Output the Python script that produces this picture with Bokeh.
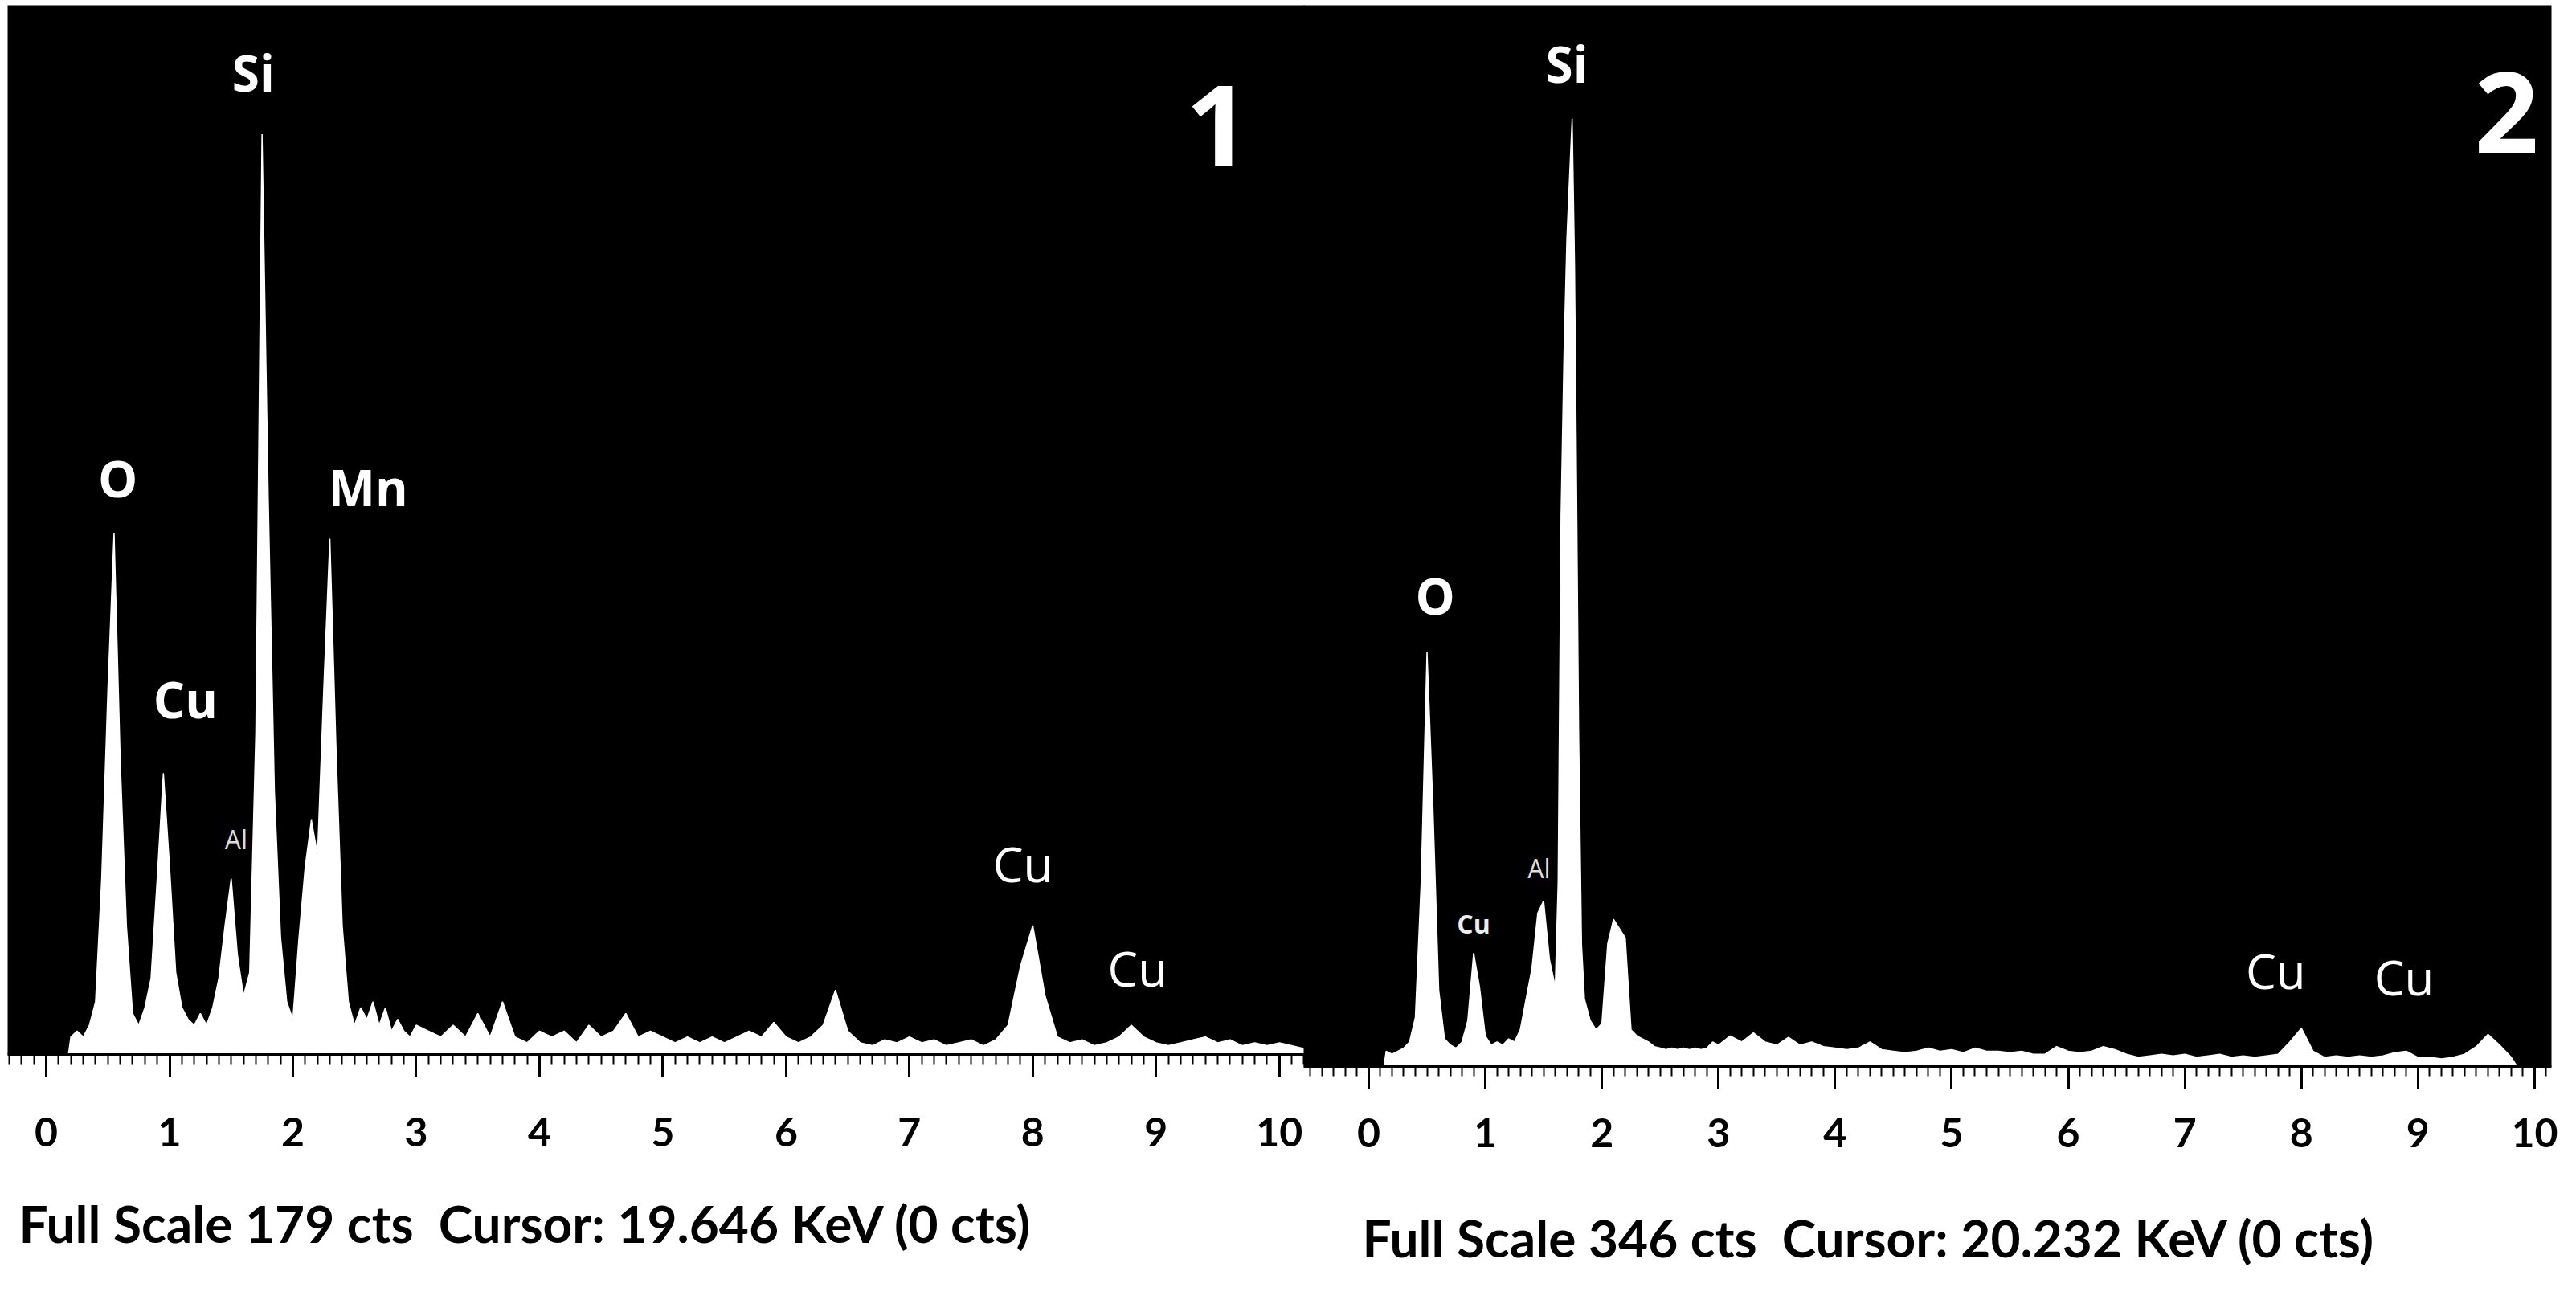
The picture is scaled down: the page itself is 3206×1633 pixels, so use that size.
from bokeh.plotting import figure
from bokeh.models import ColumnDataSource, Range1d, SingleIntervalTicker, Title
from bokeh.layouts import row
from bokeh.embed import file_html
from bokeh.resources import INLINE
from bokeh.core.properties import value

# ---------------- data ----------------
# Panel 1 : energy (keV) and counts (full scale 179 cts)
left_energy_keV = [0.18, 0.20, 0.25, 0.30, 0.35, 0.40, 0.45, 0.50, 0.55, 0.60, 0.65, 0.70, 0.75, 0.80,
                   0.85, 0.90, 0.95, 1.00, 1.05, 1.10, 1.15, 1.20, 1.25, 1.30, 1.35, 1.40, 1.45, 1.50,
                   1.55, 1.60, 1.65, 1.70, 1.75, 1.80, 1.85, 1.90, 1.95, 2.00, 2.05, 2.10, 2.15, 2.20,
                   2.25, 2.30, 2.35, 2.40, 2.45, 2.50, 2.55, 2.60, 2.65, 2.70, 2.75, 2.80, 2.85, 2.90,
                   2.95, 3.00,
                   3.1, 3.2, 3.3, 3.4, 3.5, 3.6, 3.7, 3.8, 3.9, 4.0, 4.1, 4.2, 4.3, 4.4, 4.5, 4.6, 4.7,
                   4.8, 4.9, 5.0, 5.1, 5.2, 5.3, 5.4, 5.5, 5.6, 5.7, 5.8, 5.9, 6.0, 6.1, 6.2, 6.3, 6.4,
                   6.5, 6.6, 6.7, 6.8, 6.9, 7.0, 7.1, 7.2, 7.3, 7.4, 7.5, 7.6, 7.7, 7.8, 7.9, 8.0, 8.1,
                   8.2, 8.3, 8.4, 8.5, 8.6, 8.7, 8.8, 8.9, 9.0, 9.1, 9.2, 9.3, 9.4, 9.5, 9.6, 9.7, 9.8,
                   9.9, 10.0, 10.1, 10.2]
left_counts = [0, 3, 4, 3, 5, 9, 30, 62, 89, 50, 22, 7, 5, 8,
               13, 30, 48, 32, 14, 8, 6, 5, 7, 5, 8, 13, 22, 30,
               17, 10, 14, 55, 157, 95, 45, 20, 9, 6, 20, 32, 40, 34,
               62, 88, 52, 22, 9, 5, 8, 6, 9, 5, 8, 4, 6, 4,
               3, 5,
               4, 3, 5, 3, 7, 3, 9, 3, 2, 4, 3, 4, 2, 5, 3, 4, 7,
               3, 4, 3, 2, 3, 2, 3, 2, 3, 4, 3, 5.5, 3, 2, 3, 5, 11,
               4, 2, 1.5, 2.5, 2, 3, 2, 2.5, 1.5, 2, 2.5, 1.5, 2.5, 5, 15, 22, 10,
               3, 2, 2.5, 1.5, 2, 3, 5, 3, 2, 1.5, 2, 2.5, 3, 2, 2.5, 1.5, 2,
               1.5, 2, 1.5, 1]

# Panel 2 : energy (keV) and counts (full scale 346 cts)
right_energy_keV = [0.13, 0.15, 0.20, 0.25, 0.30, 0.35, 0.40, 0.45, 0.50, 0.55, 0.60, 0.65, 0.70, 0.75,
                    0.80, 0.85, 0.90, 0.95, 1.00, 1.05, 1.10, 1.15, 1.20, 1.25, 1.30, 1.35, 1.40, 1.45,
                    1.50, 1.55, 1.60, 1.625, 1.65, 1.675, 1.70, 1.725, 1.745, 1.765, 1.78, 1.80, 1.825,
                    1.85, 1.90, 1.95, 2.00, 2.05, 2.10, 2.15, 2.20, 2.25, 2.30, 2.35, 2.40, 2.45, 2.50,
                    2.55, 2.60, 2.65, 2.70, 2.75, 2.80, 2.85, 2.90, 2.95, 3.00,
                    3.1, 3.2, 3.3, 3.4, 3.5, 3.6, 3.7, 3.8, 3.9, 4.0, 4.1, 4.2, 4.3, 4.4, 4.5, 4.6, 4.7,
                    4.8, 4.9, 5.0, 5.1, 5.2, 5.3, 5.4, 5.5, 5.6, 5.7, 5.8, 5.9, 6.0, 6.1, 6.2, 6.3, 6.4,
                    6.5, 6.6, 6.7, 6.8, 6.9, 7.0, 7.1, 7.2, 7.3, 7.4, 7.5, 7.6, 7.7, 7.8, 7.9, 8.0, 8.1,
                    8.2, 8.3, 8.4, 8.5, 8.6, 8.7, 8.8, 8.9, 9.0, 9.1, 9.2, 9.3, 9.4, 9.5, 9.6, 9.7, 9.8,
                    9.85]
right_counts = [0, 5, 4, 5, 6, 8, 16, 60, 135, 85, 25, 9, 7, 6,
                8, 15, 37, 26, 10, 7, 8, 7, 9, 8, 12, 22, 32, 50,
                54, 35, 26, 60, 180, 232, 270, 292, 309, 262, 200, 110, 40,
                22, 15, 12, 14, 40, 48, 45, 42, 12, 10, 9, 8, 6.5, 6,
                5.5, 6, 5.5, 6, 5.5, 6, 5.5, 6, 8, 7,
                10, 8, 11, 8, 7, 9.5, 7, 8, 6.5, 6, 5.5, 6, 8, 5.5, 5, 4.5, 5,
                6, 5, 5.5, 4.5, 6, 5, 5, 4.5, 5, 4, 4, 6.5, 5, 4.5, 5, 6.5, 5.5,
                4, 3, 3.5, 4, 3.5, 4, 3, 3.5, 4, 3, 3.5, 3, 3.5, 4, 8, 12.5, 5,
                3, 3.5, 3, 3.5, 3, 3.5, 4.5, 5, 3, 3, 2.5, 3, 4, 6.5, 10.5, 7, 3,
                0]

left_full_scale = 179
right_full_scale = 346

# peak labels: text, energy (keV), counts at label centre
left_label_text = ["O", "Cu", "Al", "Si", "Mn", "Cu", "Cu", "1"]
left_label_x = [0.58, 1.13, 1.54, 1.68, 2.61, 7.92, 8.85, 9.50]
left_label_y = [98.3, 60.7, 36.7, 167.6, 96.8, 32.5, 14.7, 158.4]
left_label_kind = ["big", "big", "small", "big", "big", "plain", "plain", "number"]

right_label_text = ["O", "Cu", "Al", "Si", "Cu", "Cu", "2"]
right_label_x = [0.57, 0.90, 1.46, 1.70, 7.78, 8.88, 9.76]
right_label_y = [153.7, 46.6, 64.7, 327.0, 31.4, 29.3, 310.9]
right_label_kind = ["big", "smallbold", "small", "big", "plain", "plain", "number"]

tick_labels_keV = [0, 1, 2, 3, 4, 5, 6, 7, 8, 9, 10]

left_caption = "Full Scale 179 cts\u00a0 Cursor: 19.646 KeV (0 cts)"
right_caption = "Full Scale 346 cts\u00a0 Cursor: 20.232 KeV (0 cts)"

# ---------------- styling ----------------
KIND_STYLE = {
    "big": ("62px", "bold", "white"),
    "plain": ("60px", "normal", "white"),
    "small": ("32px", "normal", "#dddddd"),
    "smallbold": ("32px", "bold", "#eeeeee"),
    "number": ("140px", "bold", "white"),
}


def make_panel(energy, counts, full_scale, lab_text, lab_x, lab_y, lab_kind, caption,
               x_start, x_end, frame_w, frame_h, border_left, border_right,
               label_standoff, caption_offset, caption_standoff):
    p = figure(frame_width=frame_w, frame_height=frame_h,
               x_range=Range1d(x_start, x_end), y_range=Range1d(0, full_scale),
               y_axis_type=None, output_backend="svg", toolbar_location=None,
               min_border_left=border_left, min_border_right=border_right,
               min_border_top=6, min_border_bottom=0)
    p.background_fill_color = "black"
    p.border_fill_color = "white"
    p.outline_line_color = None
    p.grid.visible = False

    src = ColumnDataSource(dict(x=energy, y=counts, zero=[0] * len(energy)))
    p.varea(x="x", y1="zero", y2="y", source=src, fill_color="white")
    p.line(x="x", y="y", source=src, line_color="white", line_width=1.5)

    sizes = [KIND_STYLE[k][0] for k in lab_kind]
    styles = [KIND_STYLE[k][1] for k in lab_kind]
    colors = [KIND_STYLE[k][2] for k in lab_kind]
    lsrc = ColumnDataSource(dict(x=lab_x, y=lab_y, t=lab_text, s=sizes, st=styles, c=colors))
    p.text(x="x", y="y", text="t", source=lsrc, text_font=value("Open Sans"),
           text_font_size="s", text_font_style="st", text_color="c",
           text_align="center", text_baseline="middle")

    ax = p.xaxis[0]
    ax.ticker = SingleIntervalTicker(interval=1, num_minor_ticks=10)
    ax.axis_line_color = "black"
    ax.axis_line_width = 3
    ax.major_tick_line_color = "black"
    ax.major_tick_line_width = 3
    ax.major_tick_out = 28
    ax.major_tick_in = 0
    ax.minor_tick_line_color = "black"
    ax.minor_tick_line_width = 2
    ax.minor_tick_out = 12
    ax.minor_tick_in = 0
    ax.major_label_text_font = "Lato"
    ax.major_label_text_font_style = "bold"
    ax.major_label_text_font_size = "50px"
    ax.major_label_text_color = "black"
    ax.major_label_standoff = label_standoff
    ax.major_label_overrides = {t: str(t) for t in tick_labels_keV}

    t = Title(text=caption, align="left", offset=caption_offset, standoff=caption_standoff,
              text_font="Lato", text_font_style="bold", text_font_size="64px",
              text_color="black")
    p.add_layout(t, "below")
    return p


p1 = make_panel(left_energy_keV, left_counts, left_full_scale,
                left_label_text, left_label_x, left_label_y, left_label_kind, left_caption,
                x_start=-0.313, x_end=10.21, frame_w=1615, frame_h=1306,
                border_left=9, border_right=0,
                label_standoff=50, caption_offset=14, caption_standoff=105)
p2 = make_panel(right_energy_keV, right_counts, right_full_scale,
                right_label_text, right_label_x, right_label_y, right_label_kind, right_caption,
                x_start=-0.558, x_end=10.145, frame_w=1553, frame_h=1321,
                border_left=0, border_right=10,
                label_standoff=36, caption_offset=73, caption_standoff=139)
p2.styles = {"margin-left": "-2px"}

layout = row(p1, p2, spacing=0)
with open("out.html", "w") as f:
    f.write(file_html(layout, INLINE))
